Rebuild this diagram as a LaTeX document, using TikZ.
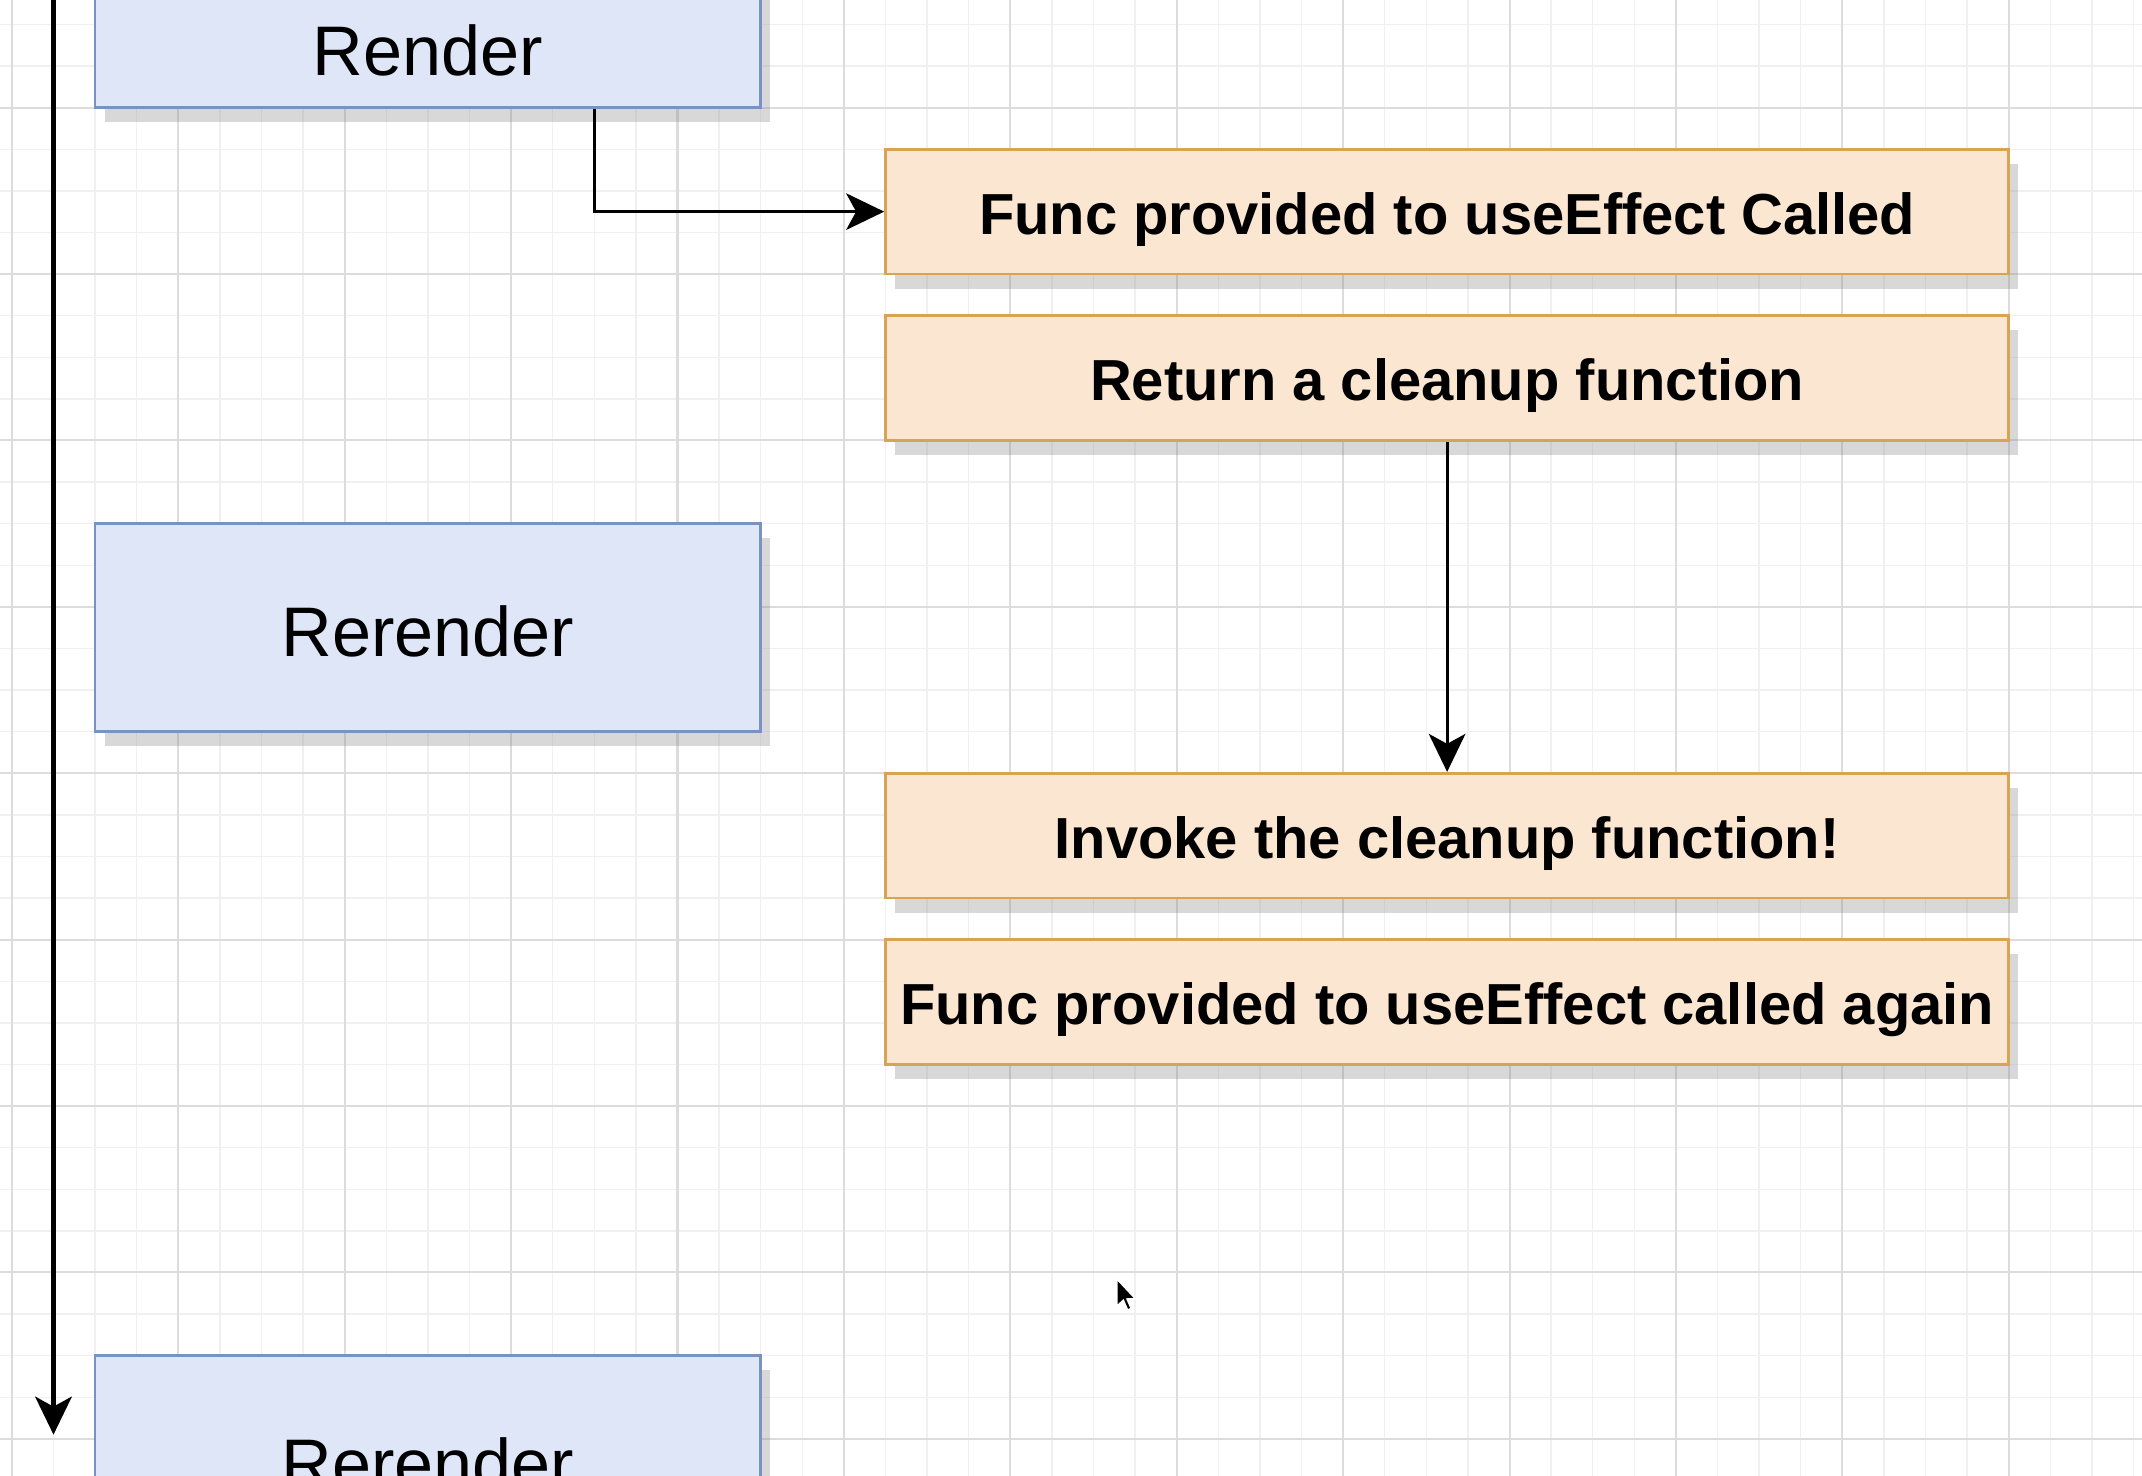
\documentclass[tikz,border=0pt]{standalone}
\usepackage{fontspec}
\setmainfont{Liberation Sans}
\usepackage{tikz}
\usetikzlibrary{arrows.meta,shadows}
\definecolor{boxblue}{HTML}{DEE6F8}
\definecolor{blueline}{HTML}{7A92C0}
\definecolor{boxorange}{HTML}{FBE6D2}
\definecolor{orangeline}{HTML}{D5A553}
\definecolor{gridmajor}{HTML}{DCDCDC}
\definecolor{gridminor}{HTML}{F0F0F0}
\tikzset{bluebox/.style={rectangle,draw=blueline,fill=boxblue,line width=0.9pt,minimum width=8cm,minimum height=2.5cm,inner sep=0pt,font=\fontsize{24}{28.8}\selectfont,text height=19.4pt,text depth=0pt,drop shadow={shadow xshift=3.3pt,shadow yshift=-5pt,opacity=0.3}}}
\tikzset{orangebox/.style={rectangle,draw=orangeline,fill=boxorange,line width=0.9pt,minimum width=13.5cm,minimum height=1.5cm,inner sep=0pt,font=\bfseries\fontsize{19.8}{23.8}\selectfont,text height=15.6pt,text depth=0pt,drop shadow={shadow xshift=3.3pt,shadow yshift=-5pt,opacity=0.3}}}
\tikzset{minorgrid/.style={draw=gridminor,line width=0.5pt},majorgrid/.style={draw=gridmajor,line width=0.7pt}}
\tikzset{flow/.style={->,line width=1.1pt},timeline/.style={->,line width=1.5pt}}

\begin{document}
\begin{tikzpicture}[x=0.5cm,y=-0.5cm,>={Stealth[length=13pt,width=12.5pt,inset=3.4pt]}]
        \useasboundingbox (-0.286,-2.587) rectangle (51.204,32.893);
        \clip (-0.286,-2.587) rectangle (51.204,32.893);
        \fill[white] (-0.286,-2.587) rectangle (51.204,32.893);

        % grid
        \foreach \gx in {0,...,51} \draw[minorgrid] (\gx,-2.6) -- (\gx,32.9);
        \foreach \gy in {-2,...,32} \draw[minorgrid] (-0.3,\gy) -- (51.3,\gy);
        \foreach \gx in {0,4,...,48} \draw[majorgrid] (\gx,-2.6) -- (\gx,32.9);
        \foreach \gy in {0,4,...,32} \draw[majorgrid] (-0.3,\gy) -- (51.3,\gy);

        % renders
        \node[bluebox,text height=49.4pt] (render) at (10,-2.5) {Render};
        \node[bluebox] (rerender) at (10,12.5) {Rerender};
        \node[bluebox] (rerenderagain) at (10,32.5) {Rerender};

        % effect steps
        \node[orangebox] (called) at (34.5,2.5) {Func provided to useEffect Called};
        \node[orangebox] (cleanup) at (34.5,6.5) {Return a cleanup function};
        \node[orangebox] (invoke) at (34.5,17.5) {Invoke the cleanup function!};
        \node[orangebox] (again) at (34.5,21.5) {Func provided to useEffect called again};

        \coordinate (timetop) at (1,-3);
        \coordinate (timeend) at (1,31.9);
        \coordinate (elbow) at ([xshift=2cm]render.south);

        \draw [timeline] (timetop) -- (timeend);
        \draw [flow] (elbow) |- (called);
        \draw [flow] (cleanup) -- (invoke);

        % pointer
        \begin{scope}[shift={(26.56,28.15)},scale=0.78]
        \filldraw[fill=black,draw=white,line width=0.6pt] (0,0) -- (0,0.85) -- (0.2,0.67) -- (0.33,0.97) -- (0.45,0.92) -- (0.32,0.63) -- (0.58,0.62) -- cycle;
        \end{scope}
    \end{tikzpicture}
\end{document}
